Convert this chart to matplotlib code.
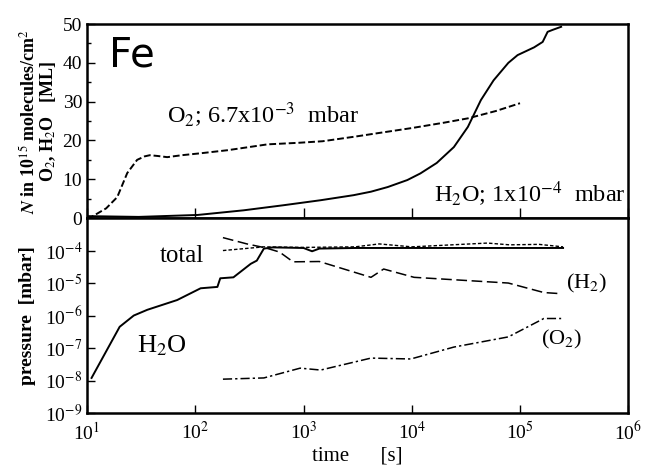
import matplotlib
matplotlib.use("Agg")
import matplotlib.pyplot as plt
from matplotlib.ticker import FixedLocator, NullFormatter
import numpy as np

plt.rcParams["font.family"] = ["Liberation Serif", "DejaVu Serif"]
plt.rcParams["mathtext.fontset"] = "stix"

# ---- top panel: adsorbed amount N [ML] vs time [s]
o2_ads_t = [10, 11, 15, 19, 23.5, 29, 34, 38, 45, 55, 75, 112, 200, 465, 900, 1500,
            3000, 4900, 10000, 20000, 33000, 60000, 100000]
o2_ads_n = [0.0, 0.3, 2.5, 5.4, 11.6, 15.0, 15.9, 16.2, 16.0, 15.7, 16.2, 16.7, 17.5,
            19.0, 19.4, 19.8, 21.0, 21.9, 23.2, 24.6, 25.7, 27.6, 29.6]

h2o_ads_t = [10, 30, 105, 280, 650, 1440, 2900, 4200, 6000, 9100, 12000, 17000,
             24500, 33000, 43500, 57000, 78000, 95000, 135000, 162000, 180000,
             200000, 240000]
h2o_ads_n = [0.5, 0.3, 0.8, 2.0, 3.3, 4.6, 5.9, 6.8, 8.0, 9.8, 11.5, 14.2,
             18.3, 23.5, 30.4, 35.5, 40.0, 42.0, 44.0, 45.4, 48.0, 48.5, 49.3]

# ---- bottom panel: partial pressures [mbar] vs time [s]
h2o_p_t = [11, 20, 27, 36, 68, 112, 160, 170, 225, 325, 370, 430, 520, 1000, 1200,
           1400, 3000, 10000, 50000, 250000]
h2o_p = [1.2e-8, 4.5e-7, 1.0e-6, 1.5e-6, 3.0e-6, 6.9e-6, 7.6e-6, 1.4e-5, 1.5e-5,
         3.9e-5, 4.9e-5, 1.15e-4, 1.25e-4, 1.2e-4, 0.95e-4, 1.15e-4, 1.2e-4, 1.2e-4,
         1.2e-4, 1.2e-4]

total_p_t = [180, 430, 1000, 3000, 5000, 10000, 50000, 80000, 150000, 250000]
total_p = [1.0e-4, 1.3e-4, 1.25e-4, 1.3e-4, 1.6e-4, 1.3e-4, 1.7e-4, 1.5e-4,
           1.55e-4, 1.3e-4]

h2_p_t = [180, 300, 450, 600, 800, 1400, 4200, 5500, 10500, 78000, 166000, 240000]
h2_p = [2.5e-4, 1.6e-4, 1.2e-4, 0.9e-4, 4.5e-5, 4.6e-5, 1.5e-5, 2.7e-5, 1.5e-5,
        1.0e-5, 5.1e-6, 4.7e-6]

o2_p_t = [180, 430, 930, 1440, 4200, 9800, 24500, 78000, 166000, 240000]
o2_p = [1.1e-8, 1.2e-8, 2.4e-8, 2.1e-8, 4.9e-8, 4.6e-8, 1.07e-7, 2.2e-7, 8.1e-7, 8.1e-7]

p_ticks = [1e-9, 1e-8, 1e-7, 1e-6, 1e-5, 1e-4]
p_labels = [r"10$^{-9}$", r"10$^{-8}$", r"10$^{-7}$", r"10$^{-6}$", r"10$^{-5}$", r"10$^{-4}$"]
t_ticks = [1e1, 1e2, 1e3, 1e4, 1e5, 1e6]
t_labels = [r"10$^{1}$", r"10$^{2}$", r"10$^{3}$", r"10$^{4}$", r"10$^{5}$", r"10$^{6}$"]

fig = plt.figure(figsize=(6.45, 4.72), dpi=100)
ax_top = fig.add_axes([0.135, 0.538, 0.839, 0.411])
ax_bot = fig.add_axes([0.135, 0.125, 0.839, 0.413], sharex=ax_top)

for ax in (ax_top, ax_bot):
    for sp in ax.spines.values():
        sp.set_linewidth(1.8)
    ax.tick_params(direction="in", which="both", labelsize=14, width=1, length=6)
    ax.tick_params(which="minor", length=3)

# top
ax_top.plot(o2_ads_t, o2_ads_n, color="black", lw=1.4, ls=(0, (3.5, 1.5)))
ax_top.plot(h2o_ads_t, h2o_ads_n, color="black", lw=1.4)
ax_top.set_xscale("log")
ax_top.set_xlim(10, 1e6)
ax_top.set_ylim(0, 50)
ax_top.yaxis.set_major_locator(FixedLocator([0, 10, 20, 30, 40, 50]))
ax_top.yaxis.set_minor_locator(FixedLocator([5, 15, 25, 35, 45]))
ax_top.xaxis.set_minor_locator(FixedLocator([]))
ax_top.tick_params(axis="x", labelbottom=False, length=7)
ax_top.set_ylabel("$\\boldsymbol{N}$ in 10$^{15}$ molecules/cm$^{2}$\nO$_2$, H$_2$O   [ML]",
                  fontsize=13, fontweight="bold", labelpad=3, linespacing=1.0)
ax_top.text(0.04, 0.94, "Fe", transform=ax_top.transAxes, fontsize=29,
            family="DejaVu Sans", va="top", ha="left")
ax_top.text(0.148, 0.53, r"O$_2$; 6.7x10$^{-3}$  mbar", transform=ax_top.transAxes,
            fontsize=17.5, va="center", ha="left")
ax_top.text(0.995, 0.12, r"H$_2$O; 1x10$^{-4}$  mbar", transform=ax_top.transAxes,
            fontsize=17.5, va="center", ha="right")

# bottom
ax_bot.plot(h2o_p_t, h2o_p, color="black", lw=1.4)
ax_bot.plot(total_p_t, total_p, color="black", lw=1.0, ls=(0, (2.5, 1.5)))
ax_bot.plot(h2_p_t, h2_p, color="black", lw=1.1, ls=(0, (7, 3)))
ax_bot.plot(o2_p_t, o2_p, color="black", lw=1.1, ls=(0, (6, 2, 1.5, 2)))
ax_bot.set_yscale("log")
ax_bot.set_ylim(1e-9, 1e-3)
ax_bot.yaxis.set_major_locator(FixedLocator(p_ticks))
ax_bot.set_yticklabels(p_labels)
ax_bot.yaxis.set_minor_locator(FixedLocator([]))
ax_bot.yaxis.set_minor_formatter(NullFormatter())
ax_bot.xaxis.set_major_locator(FixedLocator(t_ticks))
ax_bot.set_xticklabels(t_labels)
ax_bot.xaxis.set_minor_locator(FixedLocator([]))
ax_bot.tick_params(axis="x", pad=6)
ax_bot.set_ylabel("pressure  [mbar]", fontsize=14, fontweight="bold", labelpad=6)
ax_bot.set_xlabel("time      [s]", fontsize=15, labelpad=2)

ax_bot.text(0.135, 0.805, "total", transform=ax_bot.transAxes, fontsize=18,
            va="center", ha="left")
ax_bot.text(0.093, 0.345, r"H$_2$O", transform=ax_bot.transAxes, fontsize=19,
            va="center", ha="left")
ax_bot.text(0.885, 0.665, r"(H$_2$)", transform=ax_bot.transAxes, fontsize=16,
            va="center", ha="left")
ax_bot.text(0.838, 0.375, r"(O$_2$)", transform=ax_bot.transAxes, fontsize=16,
            va="center", ha="left")

fig.savefig("out.png", dpi=100)
